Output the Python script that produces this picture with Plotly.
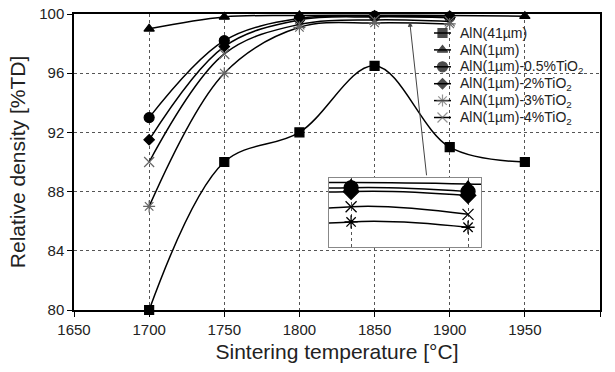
import plotly.graph_objects as go

temps = [1700, 1750, 1800, 1850, 1900, 1950]
temps_ti = [1700, 1750, 1800, 1850, 1900]

aln41 = [80.0, 90.0, 92.0, 96.5, 91.0, 90.0]
aln1 = [99.0, 99.8, 99.9, 99.92, 99.9, 99.85]
ti05 = [93.0, 98.2, 99.7, 99.85, 99.8]
ti2 = [91.5, 97.8, 99.6, 99.8, 99.75]
ti3 = [87.0, 96.0, 99.1, 99.4, 99.33]
ti4 = [90.0, 97.3, 99.3, 99.6, 99.5]

names = ["AlN(41µm)", "AlN(1µm)", "AlN(1µm)-0.5%TiO<sub>2</sub>",
         "AlN(1µm)-2%TiO<sub>2</sub>", "AlN(1µm)-3%TiO<sub>2</sub>",
         "AlN(1µm)-4%TiO<sub>2</sub>"]

x_ticks = [1650, 1700, 1750, 1800, 1850, 1900, 1950, 2000]
y_ticks = [80, 84, 88, 92, 96, 100]

series = [
    (temps, aln41, "square", 9, "black"),
    (temps, aln1, "triangle-up", 9, "black"),
    (temps_ti, ti05, "circle", 10, "black"),
    (temps_ti, ti2, "diamond", 8, "black"),
    (temps_ti, ti3, "asterisk-open", 10, "#666"),
    (temps_ti, ti4, "x-thin-open", 10, "#666"),
]

# plot area in pixels (used for the overlay axis that holds the legend)
L, R, T, B = 74, 600, 14, 310
W, H = 615, 372

fig = go.Figure()
for (xs, ys, sym, sz, mc), nm in zip(series, names):
    fig.add_trace(go.Scatter(
        x=xs, y=ys, name=nm, mode="lines+markers", showlegend=False,
        line=dict(color="black", width=1.5, shape="spline", smoothing=1.0),
        marker=dict(symbol=sym, size=sz, color=mc,
                    line=dict(color=mc, width=1.2)),
        xaxis="x", yaxis="y", cliponaxis=False))

# inset (zoomed view)
inset_series = [
    (temps, aln1, "triangle-up", 0),
    (temps_ti, ti05, "circle", 14),
    (temps_ti, ti2, "diamond", 12),
    (temps_ti, ti4, "x-thin-open", 11),
    (temps_ti, ti3, "asterisk-open", 11),
]
for xs, ys, sym, sz in inset_series:
    fig.add_trace(go.Scatter(
        x=xs, y=ys, showlegend=False, mode="lines+markers",
        line=dict(color="black", width=1.5, shape="spline", smoothing=1.0),
        marker=dict(symbol=sym, size=sz, color="black",
                    line=dict(color="black", width=1.3)),
        xaxis="x2", yaxis="y2"))

# custom legend on an overlay axis whose units are pixels
leg_y0, leg_dy = 33, 16.9
annotations = []
for i, ((xs, ys, sym, sz, mc), nm) in enumerate(zip(series, names)):
    yy = leg_y0 + i * leg_dy
    fig.add_trace(go.Scatter(
        x=[434, 442.5, 451], y=[yy, yy, yy], mode="lines+markers",
        showlegend=False, hoverinfo="skip",
        line=dict(color="black", width=1.5),
        marker=dict(symbol=sym, size=[0, sz, 0], color=mc,
                    line=dict(color=mc, width=1.2)),
        xaxis="x3", yaxis="y3"))
    annotations.append(dict(x=458, y=yy, xref="x3", yref="y3", text=nm,
                            showarrow=False, xanchor="left", yanchor="middle",
                            font=dict(size=14, color="#222")))

annotations.append(dict(x=1873.4, y=99.48, ax=1884.7, ay=89.0,
                        xref="x", yref="y", axref="x", ayref="y",
                        text="", showarrow=True, arrowhead=2, arrowsize=1,
                        arrowwidth=1, arrowcolor="#444"))

grid_col = "#555"
fig.update_layout(
    width=W, height=H,
    margin=dict(l=L, r=W - R, t=T, b=H - B),
    paper_bgcolor="white", plot_bgcolor="white",
    font=dict(family="Liberation Sans, Arial, sans-serif", color="#222"),
    showlegend=False,
    xaxis=dict(range=[1650, 2000], tickvals=x_ticks, domain=[0, 1],
               automargin=False,
               showgrid=True, gridcolor=grid_col, griddash="dot", gridwidth=1,
               showline=True, linecolor="black", linewidth=1.5, mirror=True,
               ticks="outside", ticklen=5, tickcolor="black",
               tickfont=dict(size=15, color="#222"), zeroline=False,
               title=dict(text="Sintering temperature [°C]",
                          font=dict(size=21, color="#222"), standoff=8)),
    yaxis=dict(range=[80, 100], tickvals=y_ticks, domain=[0, 1],
               automargin=False,
               showgrid=True, gridcolor=grid_col, griddash="dot", gridwidth=1,
               showline=True, linecolor="black", linewidth=1.5, mirror=True,
               ticks="outside", ticklen=5, tickcolor="black",
               tickfont=dict(size=15, color="#222"), zeroline=False,
               title=dict(text="Relative density [%TD]",
                          font=dict(size=21, color="#222"), standoff=8)),
    xaxis2=dict(range=[1840.6, 1905.6], domain=[0.485, 0.774], anchor="y2",
                showgrid=True, gridcolor=grid_col, griddash="dot", gridwidth=1,
                tickvals=[1850, 1900], showticklabels=False, ticks="",
                showline=True, linecolor="#888", linewidth=1, mirror=True,
                zeroline=False),
    yaxis2=dict(range=[99.07, 99.98], domain=[0.213, 0.446], anchor="x2",
                showgrid=False, showticklabels=False, ticks="",
                showline=True, linecolor="#888", linewidth=1, mirror=True,
                zeroline=False),
    xaxis3=dict(range=[L, R], domain=[0, 1], anchor="y3", overlaying="x",
                visible=False, fixedrange=True),
    yaxis3=dict(range=[B, T], domain=[0, 1], anchor="x3", overlaying="y",
                visible=False, fixedrange=True),
    shapes=[dict(type="rect", xref="x2 domain", yref="y2 domain",
                 x0=0, x1=1, y0=0, y1=1, fillcolor="white",
                 line=dict(width=0), layer="below")],
    annotations=annotations,
)

fig.write_html("out.html",
               config={"displayModeBar": False},
               post_script="document.body.style.margin='0';"
                           "document.body.style.padding='0';")
